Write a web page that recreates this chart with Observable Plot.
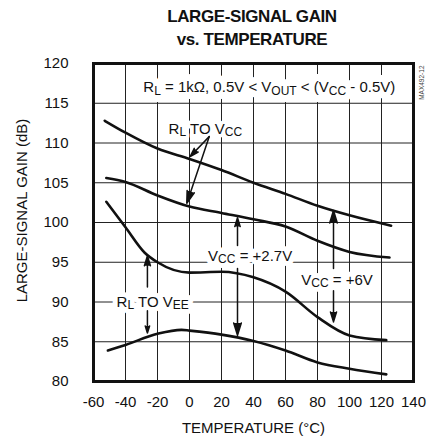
<!DOCTYPE html>
<html>
<head>
<meta charset="utf-8">
<script src="https://cdn.jsdelivr.net/npm/d3@7"></script>
<script src="https://cdn.jsdelivr.net/npm/@observablehq/plot@0.6"></script>
<style>
  html, body { margin: 0; padding: 0; background: #fff; }
  body { width: 432px; height: 443px; overflow: hidden; font-family: "Liberation Sans", Arial, sans-serif; }
  #title { margin-left: 72px; width: 360px; height: 52px; box-sizing: border-box; padding-top: 4.5px;
           text-align: center; font-weight: bold; font-size: 17px; line-height: 23px; letter-spacing: -0.4px; color: #111; }
  svg { display: block; }
</style>
</head>
<body>
<div id="title">LARGE-SIGNAL GAIN<br>vs. TEMPERATURE</div>
<script>
// ---- data ----
const xTitle = "TEMPERATURE (°C)";
const yTitle = "LARGE-SIGNAL GAIN (dB)";
const codeLabel = "MAX492-12";

const xTicks = [-60, -40, -20, 0, 20, 40, 60, 80, 100, 120, 140];
const yTicks = [80, 85, 90, 95, 100, 105, 110, 115, 120];
const xGrid = [-40, -20, 0, 20, 40, 60, 80, 100, 120];
const yGrid = [85, 90, 95, 100, 105, 110, 115];

// RL to VCC, VCC = +6V
const tempA = [-53, -40, -20, 0, 20, 40, 60, 80, 100, 126];
const gainA = [112.8, 111.3, 109.3, 108.0, 106.6, 105.0, 103.6, 102.1, 100.9, 99.6];
// RL to VCC, VCC = +2.7V
const tempB = [-52, -40, -20, 0, 20, 40, 60, 80, 100, 125];
const gainB = [105.6, 105.1, 103.4, 102.0, 101.2, 100.4, 99.5, 97.7, 96.3, 95.6];
// RL to VEE, VCC = +6V
const tempC = [-52, -40, -28, -20, 0, 20, 40, 60, 80, 100, 123];
const gainC = [102.6, 99.4, 96.2, 95.0, 93.7, 93.8, 93.1, 91.3, 88.1, 85.8, 85.2];
// RL to VEE, VCC = +2.7V
const tempD = [-51, -40, -20, -5, 0, 20, 40, 60, 80, 100, 123];
const gainD = [83.9, 84.6, 86.0, 86.5, 86.4, 85.9, 85.1, 83.9, 82.4, 81.6, 80.9];

// annotations (data coordinates)
const noteText = ["R{L} = 1kΩ, 0.5V < V{OUT} < (V{CC} - 0.5V)", "R{L} TO V{CC}", "V{CC} = +2.7V", "V{CC} = +6V", "R{L} TO V{EE}"];
const noteX = [49.9, 9.9, 37.9, 92.2, -23.0];
const noteY = [117.0, 111.8, 95.8, 92.8, 90.0];
const noteHalo = [14, 7, 10, 10, 10];

// arrows (from label to curve)
const arrX1 = [12.3, 12.3, 30, 30, 90, 90, -26.3, -26.3];
const arrY1 = [110.8, 110.8, 97.1, 94.2, 94.2, 91.4, 91.9, 88.9];
const arrX2 = [0.4, -1.7, 30, 30, 90, 90, -26.3, -26.3];
const arrY2 = [108.3, 102.4, 100.6, 85.8, 101.5, 87.5, 95.8, 86.1];

// ---- build tables ----
const series = [
  {temps: tempA, gains: gainA},
  {temps: tempB, gains: gainB},
  {temps: tempC, gains: gainC},
  {temps: tempD, gains: gainD}
];
const lineRows = series.flatMap((s, i) => s.temps.map((t, j) => ({k: i, t, g: s.gains[j]})));
const notes = noteText.map((text, i) => ({text, x: noteX[i], y: noteY[i], halo: noteHalo[i]}));
const arrows = arrX1.map((x1, i) => ({x1, y1: arrY1[i], x2: arrX2[i], y2: arrY2[i]}));

const svg = Plot.plot({
  width: 432,
  height: 391,
  marginTop: 11,
  marginBottom: 62,
  marginLeft: 93,
  marginRight: 19,
  style: {fontFamily: "'Liberation Sans', Arial, sans-serif", fontSize: "15px", color: "#111", background: "white", overflow: "visible"},
  x: {domain: [-60, 140]},
  y: {domain: [80, 120]},
  marks: [
    Plot.gridX(xGrid, {stroke: "#222", strokeOpacity: 1, strokeWidth: 1}),
    Plot.gridY(yGrid, {stroke: "#222", strokeOpacity: 1, strokeWidth: 1}),
    Plot.axisX(xTicks, {tickSize: 0, tickPadding: 15, label: null, fontSize: 15, tickFormat: d => String(d)}),
    Plot.axisY(yTicks, {tickSize: 0, tickPadding: 25, label: null, fontSize: 15, tickFormat: d => String(d)}),
    Plot.text([xTitle], {frameAnchor: "bottom", dy: 47, lineAnchor: "middle", textAnchor: "middle", fontSize: 15}),
    Plot.text([yTitle], {frameAnchor: "left", dx: -71, dy: -12, rotate: -90, textAnchor: "middle", lineAnchor: "middle", fontSize: 15}),
    Plot.text([codeLabel], {frameAnchor: "top-right", dx: 5.5, dy: 2, rotate: -90, textAnchor: "end", fontSize: 6.5, fill: "#444"}),
    ...series.map((s, i) => Plot.line(lineRows.filter(d => d.k === i), {x: "t", y: "g", curve: "monotone-x", stroke: "#111", strokeWidth: 2.6})),
    // white halo layer behind the annotations
    ...notes.map(n => Plot.text([n], {x: "x", y: "y", text: "text", fontSize: 15, fill: "white", stroke: "white", strokeWidth: n.halo, strokeLinejoin: "round"})),
    Plot.text(notes, {x: "x", y: "y", text: "text", fontSize: 15, fill: "#111"}),
    Plot.arrow(arrows, {x1: "x1", y1: "y1", x2: "x2", y2: "y2", stroke: "#111", fill: "#111", strokeWidth: 1.5, headLength: 13, headAngle: 34}),
    Plot.frame({stroke: "#111", strokeWidth: 3})
  ]
});

// subscripts: turn {..} into lowered, smaller tspans
const NS = "http://www.w3.org/2000/svg";
for (const t of svg.querySelectorAll("text")) {
  const s = t.textContent;
  if (!s.includes("{")) continue;
  t.textContent = "";
  let lowered = false;
  for (const p of s.split(/(\{[^}]*\})/)) {
    if (!p) continue;
    const ts = document.createElementNS(NS, "tspan");
    if (p.startsWith("{")) {
      ts.textContent = p.slice(1, -1);
      ts.setAttribute("font-size", "80%");
      ts.setAttribute("dy", "2.5");
      lowered = true;
    } else {
      ts.textContent = p;
      if (lowered) { ts.setAttribute("dy", "-2.5"); lowered = false; }
    }
    t.appendChild(ts);
  }
}
document.body.appendChild(svg);
</script>
</body>
</html>
